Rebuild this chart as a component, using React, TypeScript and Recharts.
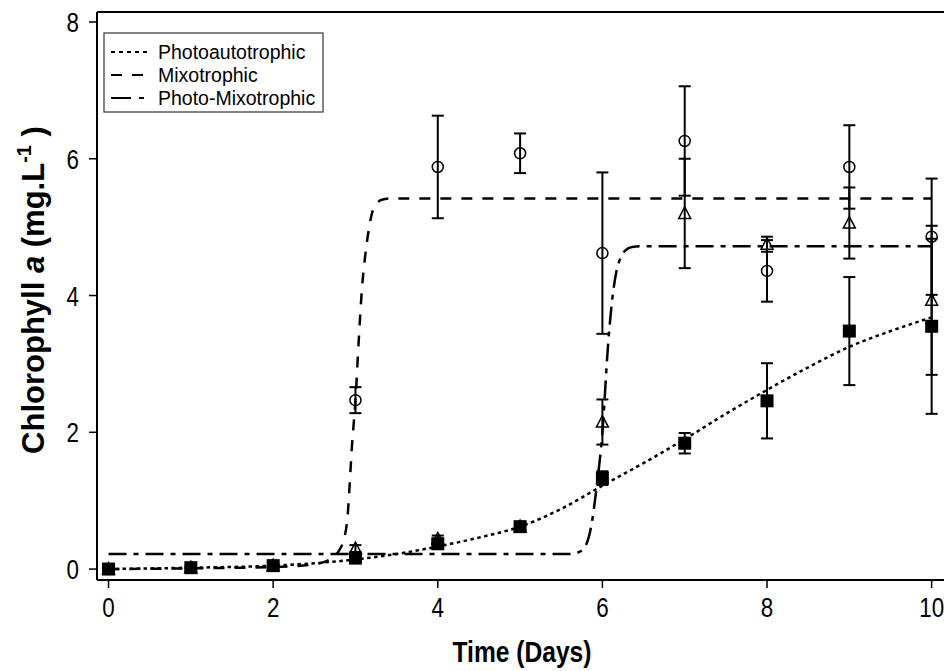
import { ComposedChart, Line, Scatter, ErrorBar, XAxis, YAxis } from "recharts";

// measured points (mean ± SD) per day
const days = [0, 1, 2, 3, 4, 5, 6, 7, 8, 9, 10];
const photoMean = [0.0, 0.02, 0.05, 0.16, 0.37, 0.62, 1.33, 1.84, 2.46, 3.48, 3.55];
const photoErr = [0.04, 0.04, 0.06, 0.05, 0.06, 0.06, 0.1, 0.15, 0.55, 0.79, 1.28];
const mixoMean = [0.0, 0.02, 0.05, 2.47, 5.88, 6.08, 4.62, 6.26, 4.36, 5.88, 4.86];
const mixoErr = [0.02, 0.02, 0.03, 0.19, 0.75, 0.29, 1.18, 0.8, 0.45, 0.61, 0.85];
const photoMixoMean = [0.0, 0.02, 0.05, 0.3, 0.44, 0.62, 2.15, 5.2, 4.75, 5.06, 3.93];
const photoMixoErr = [0.02, 0.02, 0.03, 0.05, 0.05, 0.05, 0.33, 0.8, 0.11, 0.52, 1.09];

// fitted curves
const photoCurveX = [0, 1, 2, 3, 3.5, 4, 4.5, 5, 5.5, 6, 6.5, 7, 7.5, 8, 8.5, 9, 9.5, 10];
const photoCurveY = [0.0, 0.02, 0.05, 0.14, 0.22, 0.33, 0.46, 0.62, 0.88, 1.22, 1.55, 1.9, 2.27, 2.62, 2.95, 3.25, 3.48, 3.68];
const mixoCurveX = [0, 1, 2, 2.5, 2.7, 2.8, 2.85, 2.9, 2.96, 3.0, 3.04, 3.08, 3.12, 3.16, 3.2, 3.25, 3.32, 3.45, 4, 6, 8, 10];
const mixoCurveY = [0.0, 0.01, 0.03, 0.07, 0.15, 0.27, 0.4, 0.72, 1.84, 2.47, 3.35, 4.12, 4.6, 4.95, 5.2, 5.33, 5.4, 5.42, 5.42, 5.42, 5.42, 5.42];
const photoMixoCurveX = [0, 2, 4, 5, 5.6, 5.72, 5.8, 5.86, 5.93, 6.0, 6.07, 6.12, 6.17, 6.22, 6.28, 6.36, 6.5, 8, 10];
const photoMixoCurveY = [0.22, 0.22, 0.22, 0.22, 0.22, 0.25, 0.35, 0.6, 1.2, 2.0, 3.3, 3.95, 4.35, 4.55, 4.66, 4.71, 4.72, 4.72, 4.72];

const xTicks = [0, 2, 4, 6, 8, 10];
const yTicks = [0, 2, 4, 6, 8];

const sans = "'Liberation Sans', Arial, sans-serif";

const toPoints = (means: number[], errs: number[]) =>
  days.map((d, i) => ({ x: d, y: means[i], err: errs[i] }));
const toCurve = (xs: number[], ys: number[]) => xs.map((x, i) => ({ x, y: ys[i] }));

// condensed tick labels (the original uses a narrow face)
const XTick = (p: any) => (
  <text
    transform={`translate(${p.x},${p.y}) scale(0.8,1)`}
    dy={21}
    textAnchor="middle"
    fontSize={28}
    fontFamily={sans}
    fill="#000"
  >
    {p.payload.value}
  </text>
);
const YTick = (p: any) => (
  <text
    transform={`translate(${p.x},${p.y}) scale(0.8,1)`}
    dy={10}
    textAnchor="end"
    fontSize={28}
    fontFamily={sans}
    fill="#000"
  >
    {p.payload.value}
  </text>
);

const SquareDot = (p: any) => (
  <rect x={p.cx - 6.5} y={p.cy - 6.5} width={13} height={13} fill="#000" />
);
const CircleDot = (p: any) => (
  <circle cx={p.cx} cy={p.cy} r={5.5} fill="none" stroke="#000" strokeWidth={1.5} />
);
const TriangleDot = (p: any) => (
  <path
    d={`M${p.cx},${p.cy - 6.5} L${p.cx + 6},${p.cy + 5} L${p.cx - 6},${p.cy + 5} Z`}
    fill="none"
    stroke="#000"
    strokeWidth={1.5}
  />
);

export default function App() {
  return (
    <div style={{ position: "absolute", left: 0, top: 0, width: 944, height: 671, background: "#fff" }}>
      <ComposedChart width={944} height={671} margin={{ top: 12, right: 0, bottom: 0, left: 0 }}>
        <XAxis
          type="number"
          dataKey="x"
          domain={[-0.14, 10.15]}
          ticks={xTicks}
          allowDataOverflow
          height={91}
          tickSize={8}
          tickMargin={8}
          tick={XTick}
          axisLine={{ stroke: "#000", strokeWidth: 2 }}
          tickLine={{ stroke: "#000", strokeWidth: 1.5 }}
        />
        <YAxis
          type="number"
          domain={[-0.16, 8.146]}
          ticks={yTicks}
          allowDataOverflow
          width={97}
          tickSize={8}
          tickMargin={10}
          tick={YTick}
          axisLine={{ stroke: "#000", strokeWidth: 2 }}
          tickLine={{ stroke: "#000", strokeWidth: 1.5 }}
        />
        <Line
          data={toCurve(photoCurveX, photoCurveY)}
          dataKey="y"
          type="monotone"
          stroke="#000"
          strokeWidth={2.5}
          strokeDasharray="3.5 3.5"
          dot={false}
          activeDot={false}
          isAnimationActive={false}
        />
        <Line
          data={toCurve(mixoCurveX, mixoCurveY)}
          dataKey="y"
          type="monotone"
          stroke="#000"
          strokeWidth={2.5}
          strokeDasharray="11 10"
          dot={false}
          activeDot={false}
          isAnimationActive={false}
        />
        <Line
          data={toCurve(photoMixoCurveX, photoMixoCurveY)}
          dataKey="y"
          type="monotone"
          stroke="#000"
          strokeWidth={2.5}
          strokeDasharray="18 7 5 7"
          dot={false}
          activeDot={false}
          isAnimationActive={false}
        />
        <Scatter data={toPoints(photoMixoMean, photoMixoErr)} dataKey="y" shape={TriangleDot} isAnimationActive={false}>
          <ErrorBar dataKey="err" direction="y" width={6} stroke="#000" strokeWidth={2} />
        </Scatter>
        <Scatter data={toPoints(mixoMean, mixoErr)} dataKey="y" shape={CircleDot} isAnimationActive={false}>
          <ErrorBar dataKey="err" direction="y" width={6} stroke="#000" strokeWidth={2} />
        </Scatter>
        <Scatter data={toPoints(photoMean, photoErr)} dataKey="y" shape={SquareDot} isAnimationActive={false}>
          <ErrorBar dataKey="err" direction="y" width={6} stroke="#000" strokeWidth={2} />
        </Scatter>
      </ComposedChart>
      <svg
        width={944}
        height={671}
        style={{ position: "absolute", left: 0, top: 0, pointerEvents: "none" }}
      >
        <line x1={97} y1={12} x2={944} y2={12} stroke="#000" strokeWidth={2} />
        <g>
          <rect x={104} y={33} width={219} height={79} fill="#fff" stroke="#333" strokeWidth={1.2} />
          <line x1={111} y1={52} x2={151} y2={52} stroke="#000" strokeWidth={2} strokeDasharray="4 4" />
          <line x1={111} y1={75} x2={146} y2={75} stroke="#000" strokeWidth={2} strokeDasharray="11 10" />
          <line x1={111} y1={98} x2={146} y2={98} stroke="#000" strokeWidth={2} strokeDasharray="20 8 5 100" />
          <text x={158} y={58.5} fontSize={19.5} fontFamily={sans} fill="#000">Photoautotrophic</text>
          <text x={158} y={81.5} fontSize={19.5} fontFamily={sans} fill="#000">Mixotrophic</text>
          <text x={158} y={104.5} fontSize={19.5} fontFamily={sans} fill="#000">Photo-Mixotrophic</text>
        </g>
        <text
          transform="translate(44,290) rotate(-90)"
          textAnchor="middle"
          fontSize={31}
          fontWeight="bold"
          fontFamily={sans}
          fill="#000"
        >
          Chlorophyll <tspan fontStyle="italic">a</tspan> (mg.L
          <tspan dy={-13} fontSize={20}>-1</tspan>
          <tspan dy={13}> )</tspan>
        </text>
        <text
          transform="translate(522,662) scale(0.82,1)"
          textAnchor="middle"
          fontSize={30}
          fontWeight="bold"
          fontFamily={sans}
          fill="#000"
        >
          Time (Days)
        </text>
      </svg>
    </div>
  );
}
